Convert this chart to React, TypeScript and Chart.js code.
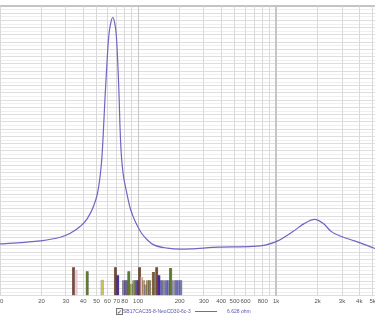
import React, { useEffect, useRef } from 'react';
import { Chart, registerables } from 'chart.js';

Chart.register(...registerables);

// Impedance curve (Hz, ohm)
const freqs = [10, 19.5, 27.3, 32.3, 38.2, 43.0, 47.5, 50.77, 52.48, 53.82, 54.73, 55.46, 56.40, 57.54, 58.90, 60.30, 61.73, 63.42, 65.56, 67.68, 69.29, 70.58, 71.89, 72.99, 73.85, 74.75, 75.72, 76.96, 78.71, 81.13, 83.86, 87.46, 91.97, 98.33, 106.0, 117.3, 130, 163, 204, 241, 385, 677, 846, 1028, 1322, 1606, 1900, 2188, 2512, 2971, 3690, 4645, 5335];
const ohms = [7.16, 7.58, 8.08, 8.63, 9.59, 10.68, 12.33, 14.11, 15.75, 17.53, 19.18, 20.96, 23.70, 27.12, 30.55, 33.97, 36.30, 37.67, 38.45, 37.67, 36.30, 33.97, 30.55, 27.12, 23.70, 21.23, 19.32, 17.81, 16.30, 15.0, 13.70, 12.19, 10.96, 9.73, 8.63, 7.67, 7.03, 6.58, 6.44, 6.48, 6.71, 6.81, 7.03, 7.58, 8.86, 10.0, 10.55, 10.0, 8.86, 8.18, 7.58, 6.89, 6.44];

// Marker bars
const barFreqs = [34.1, 35.4, 42.8, 54.9, 68.5, 71.3, 78.5, 81.1, 83.9, 85.7, 89.7, 93.2, 96.6, 100, 102.6, 106, 109.6, 113.4, 117.3, 121.3, 129, 136.5, 141.7, 147, 153, 161, 166.6, 172.2, 181, 189, 197, 204];
const barHeights = [3.93, 3.6, 3.38, 2.23, 3.93, 2.84, 2.15, 2.15, 2.15, 3.38, 1.68, 2.15, 2.15, 2.15, 3.93, 2.6, 2.15, 1.55, 2.15, 2.15, 3.29, 3.93, 2.84, 2.15, 2.15, 2.15, 2.15, 3.84, 2.15, 2.15, 2.15, 2.15];
const barColors = ['#7a4a2e', '#f4c8d8', '#5e7a2c', '#c8c060', '#7a4a2e', '#4a2aa0', '#8a8aa8', '#6a5ab0', '#8a8aa8', '#5e7a2c', '#b8b050', '#8aa060', '#6a5ab0', '#4a3ab0', '#7a4a2e', '#f0b8c8', '#d0a060', '#9a9ab0', '#b0a050', '#8a8060', '#7a5a2e', '#7a4a2e', '#4a2aa0', '#6a6ac0', '#8a8aa8', '#6a6ac0', '#8a8aa8', '#5e7a2c', '#9a9ab8', '#6a6ac0', '#8a8aa8', '#7a7ab0'];

// X axis ticks
const tickValues = [10, 20, 30, 40, 50, 60, 70, 80, 90, 100, 200, 300, 400, 500, 600, 700, 800, 900, 1000, 2000, 3000, 4000, 5000];
const tickLabels = ['10', '20', '30', '40', '50', '60', '70', '80', '', '100', '200', '300', '400', '500', '600', '', '800', '', '1k', '2k', '3k', '4k', '5k'];

const seriesName = 'SB17CAC35-8-NeoCD30-6c-3';
const cursorValue = '6.628 ohm';

export default function App() {
  const ref = useRef<HTMLCanvasElement>(null);
  useEffect(() => {
    const yTicks: number[] = [];
    for (let i = 0; i <= 80; i++) yTicks.push(i * 0.5);
    const chart = new Chart(ref.current!, {
      type: 'line',
      data: {
        datasets: [
          {
            type: 'line',
            data: freqs.map((f, i) => ({ x: f, y: ohms[i] })),
            borderColor: '#6e66c2',
            borderWidth: 1.2,
            pointRadius: 0,
            cubicInterpolationMode: 'monotone',
            fill: false,
          } as any,
          {
            type: 'bar',
            data: barFreqs.map((f, i) => ({ x: f, y: barHeights[i] })),
            backgroundColor: barColors,
            borderColor: 'rgba(40,30,30,0.55)',
            borderWidth: { left: 0.5, right: 0.5, top: 0, bottom: 0 },
            barThickness: 2.6,
            grouped: false,
          } as any,
        ],
      },
      options: {
        animation: false,
        responsive: false,
        maintainAspectRatio: false,
        layout: { padding: { left: 0, right: 0, top: 6, bottom: 11 } },
        plugins: { legend: { display: false }, tooltip: { enabled: false } },
        scales: {
          x: {
            type: 'logarithmic',
            min: 10,
            max: 5200,
            offset: false,
            afterBuildTicks: (s: any) => {
              s.ticks = tickValues.map((v) => ({ value: v }));
            },
            afterFit: (s: any) => {
              s.paddingLeft = 0;
              s.paddingRight = 0;
            },
            ticks: {
              autoSkip: false,
              maxRotation: 0,
              minRotation: 0,
              padding: 2,
              color: '#555',
              font: { size: 6, family: 'Liberation Sans, Arial' },
              callback: (v: any) => {
                const i = tickValues.indexOf(Number(v));
                return i >= 0 ? tickLabels[i] : '';
              },
            },
            grid: {
              z: -1,
              drawTicks: false,
              offset: false,
              color: (c: any) => (c.tick && (c.tick.value === 1000 || c.tick.value === 100) ? '#c6c6c6' : '#d9d9d9'),
              lineWidth: (c: any) => (c.tick && c.tick.value === 1000 ? 2 : 1),
            },
            border: { display: false },
          },
          y: {
            min: 0,
            max: 40,
            afterBuildTicks: (s: any) => {
              s.ticks = yTicks.map((v) => ({ value: v }));
            },
            afterFit: (s: any) => {
              s.width = 0;
            },
            ticks: { display: false },
            grid: {
              z: -2,
              drawTicks: false,
              color: (c: any) => {
                const v = c.tick ? c.tick.value : 0;
                if (v === 40) return '#c4c4c4';
                return v % 1 === 0 ? '#dedede' : '#efefef';
              },
              lineWidth: (c: any) => (c.tick && c.tick.value === 40 ? 2 : 1),
            },
            border: { display: false },
          },
        },
      },
    });
    return () => chart.destroy();
  }, []);

  const legendFont: React.CSSProperties = {
    position: 'absolute',
    top: 307,
    fontFamily: 'Liberation Sans, Arial, sans-serif',
    fontSize: 5,
    lineHeight: '8px',
    color: '#5a5aa8',
    whiteSpace: 'nowrap',
  };

  return (
    <div style={{ position: 'absolute', left: 0, top: 0, width: 375, height: 318, background: '#fff' }}>
      <canvas ref={ref} width={375} height={318} style={{ display: 'block' }} />
      <div
        style={{
          position: 'absolute',
          left: 116,
          top: 308,
          width: 5,
          height: 5,
          border: '1px solid #777',
          background: '#f4f4f4',
          fontSize: 6,
          lineHeight: '5px',
          textAlign: 'center',
          color: '#333',
          fontFamily: 'DejaVu Sans, sans-serif',
        }}
      >
        ✓
      </div>
      <div style={{ ...legendFont, left: 123 }}>{seriesName}</div>
      <div style={{ position: 'absolute', left: 195, top: 311, width: 22, height: 1, background: '#6e66c2' }} />
      <div style={{ ...legendFont, left: 227 }}>{cursorValue}</div>
    </div>
  );
}
